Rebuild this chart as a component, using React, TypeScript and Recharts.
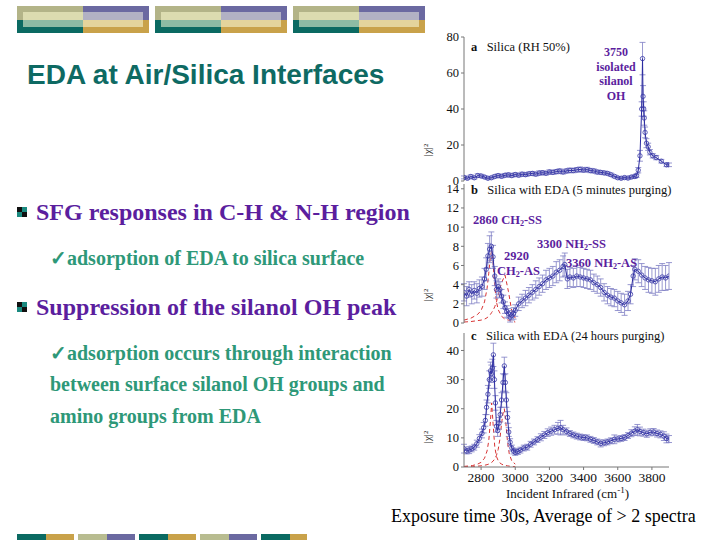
import { ComposedChart, Line, XAxis, YAxis, ErrorBar } from 'recharts'

// panel a: bare silica, RH 50%
const silicaX = [2700, 2720, 2740, 2760, 2780, 2800, 2820, 2840, 2860, 2880, 2900, 2920, 2940, 2960, 2980, 3000, 3020, 3040, 3060, 3080, 3100, 3120, 3140, 3160, 3180, 3200, 3220, 3240, 3260, 3280, 3300, 3320, 3340, 3360, 3380, 3400, 3420, 3440, 3460, 3480, 3500, 3520, 3540, 3560, 3580, 3600, 3620, 3640, 3660, 3680, 3700, 3710, 3720, 3730, 3740, 3745, 3748, 3752, 3755, 3760, 3768, 3778, 3788, 3805, 3825, 3855, 3885, 3900]
const silicaY = [2, 1.5, 2.5, 1.8, 3, 2.8, 2.2, 1.5, 1.8, 2.5, 3, 2.6, 3.2, 3.4, 3, 3.6, 3.2, 3.8, 3.5, 4, 4.2, 3.8, 4.4, 4.6, 4.3, 5, 4.8, 5.2, 5.5, 5, 5.6, 5.9, 5.8, 6.2, 6.4, 6.1, 6.3, 5.8, 5.6, 5, 4.8, 4.5, 4.2, 3.5, 2.6, 1.8, 1.5, 1.9, 1.6, 2.2, 2.5, 3, 6, 14, 40, 68, 47, 40, 35, 27, 21, 19, 16, 14, 13, 11, 9, 9]
const silicaErr = [0.8, 0.7, 0.9, 0.8, 1, 0.9, 0.8, 0.7, 0.8, 0.9, 1, 0.9, 1, 1.1, 0.9, 1, 0.9, 1.1, 1, 1, 1.1, 1, 1.2, 1.1, 1, 1.2, 1.1, 1.2, 1.3, 1.1, 1.2, 1.3, 1.2, 1.3, 1.4, 1.2, 1.3, 1.2, 1.1, 1.1, 1, 1, 0.9, 0.9, 0.8, 0.7, 0.7, 0.8, 0.7, 0.8, 0.9, 1, 1.5, 3, 4, 9, 6, 4, 4, 3, 2.5, 2, 1.5, 1.2, 1.2, 1, 1, 1]

// panel b: EDA, 5 minutes purging
const shortX = [2700, 2715, 2730, 2745, 2760, 2775, 2790, 2805, 2820, 2830, 2840, 2850, 2860, 2870, 2880, 2890, 2900, 2910, 2920, 2930, 2940, 2950, 2960, 2970, 2980, 2990, 3000, 3020, 3040, 3060, 3080, 3100, 3120, 3140, 3160, 3180, 3200, 3220, 3240, 3260, 3280, 3290, 3305, 3320, 3340, 3360, 3380, 3400, 3420, 3440, 3460, 3480, 3500, 3520, 3540, 3560, 3580, 3600, 3620, 3640, 3660, 3675, 3690, 3700, 3720, 3740, 3760, 3780, 3800, 3820, 3840, 3860, 3880, 3900]
const shortY = [3.2, 2.8, 3.5, 3.0, 3.4, 3.1, 3.6, 3.8, 4.6, 5.6, 7, 7.7, 8, 6.9, 4.9, 3.5, 3.8, 3.5, 2.8, 2.2, 1.6, 1.2, 1.0, 0.6, 0.8, 1.0, 1.3, 2.0, 2.3, 2.6, 2.9, 3.2, 3.5, 3.8, 4.1, 4.5, 4.7, 4.9, 5.3, 5.5, 5.9, 6.1, 4.6, 4.8, 4.7, 4.9, 4.8, 4.7, 4.6, 4.5, 4.2, 4.0, 3.7, 3.2, 2.9, 2.7, 2.6, 2.3, 2.1, 1.9, 2.3, 3.0, 4.9, 5.6, 5.4, 5.0, 4.7, 4.5, 4.4, 4.3, 4.6, 4.8, 4.7, 4.9]
const shortErr = [0.9, 1, 0.8, 1, 0.9, 1, 0.9, 1, 1.1, 1.2, 1.3, 1.4, 1.5, 1.2, 1, 0.9, 0.8, 0.8, 0.7, 0.7, 0.6, 0.6, 0.5, 0.5, 0.5, 0.6, 0.6, 0.7, 0.7, 0.8, 0.8, 0.8, 0.9, 0.9, 0.9, 1, 1, 1, 1.1, 1.1, 1.1, 1.2, 1, 1, 1, 1.1, 1, 1, 1, 1, 0.9, 0.9, 0.9, 0.9, 0.9, 0.9, 0.9, 1, 1, 1.1, 1, 1, 1.1, 1.1, 1.2, 1.2, 1.2, 1.3, 1.3, 1.4, 1.4, 1.4, 1.3, 1.4]
const shortFitX = [2700, 2740, 2780, 2800, 2820, 2835, 2845, 2855, 2862, 2870, 2880, 2890, 2900, 2920, 2940, 2960, 2980, 3000]
const shortFitSS = [0.3, 0.5, 0.9, 1.3, 2.2, 3.6, 5.2, 7, 7.5, 6.3, 3.8, 2.2, 1.4, 0.7, 0.4, 0.3, 0.2, 0.1]
const shortFitAS = [0.1, 0.15, 0.25, 0.3, 0.4, 0.55, 0.7, 0.9, 1.1, 1.3, 1.7, 2.2, 2.9, 4.2, 5, 3.3, 1.2, 0.5]

// panel c: EDA, 24 hours purging
const longX = [2700, 2715, 2730, 2745, 2760, 2775, 2790, 2805, 2815, 2825, 2832, 2840, 2848, 2855, 2860, 2866, 2872, 2878, 2884, 2890, 2897, 2905, 2912, 2920, 2928, 2936, 2942, 2948, 2955, 2962, 2970, 2980, 2990, 3000, 3015, 3030, 3050, 3070, 3090, 3110, 3130, 3150, 3170, 3190, 3210, 3230, 3250, 3265, 3280, 3300, 3320, 3340, 3360, 3380, 3400, 3420, 3440, 3460, 3480, 3500, 3520, 3540, 3560, 3580, 3600, 3620, 3640, 3660, 3680, 3700, 3715, 3730, 3750, 3770, 3790, 3810, 3830, 3850, 3870, 3885, 3900]
const longY = [6.3, 5.5, 5.8, 6.2, 6.8, 8, 9.8, 11.5, 13.5, 16, 20.5, 25, 30, 33, 32, 34, 38.5, 30, 22, 14, 12.5, 15, 18, 23, 29, 34.7, 29, 23, 17, 12, 8.5, 6.5, 5.5, 5, 5.3, 5.8, 6.5, 6.8, 7.8, 8.6, 9.4, 10.2, 11, 11.8, 12.3, 12.8, 13.3, 13.5, 12.8, 12.2, 11.5, 11, 10.6, 10.3, 10.1, 10, 9.5, 9.1, 8.6, 8.1, 8.3, 8.6, 9, 9.5, 9.6, 9.8, 10.1, 10.8, 11.6, 12.3, 12.8, 12.2, 11.8, 11.4, 11.9, 12, 11.5, 11.2, 10.6, 9.8, 9.6]
const longErr = [1.5, 1, 1.2, 1, 1, 1.2, 1.3, 1.5, 1.8, 2, 2.5, 3, 3, 3, 3, 3, 4, 3, 2.5, 2, 2, 2, 2.5, 2.5, 3, 3, 3, 2.5, 2, 1.5, 1.2, 1, 1, 1, 1, 1, 1, 1, 1, 1, 1, 1.2, 1.2, 1.3, 1.4, 1.5, 2, 2.5, 1.5, 1.2, 1, 1, 1, 1, 1, 1, 1, 1, 1, 1.2, 1, 1, 1, 1.5, 1, 1, 1, 1, 1.2, 1.5, 1.8, 1.5, 1.2, 1.2, 1.2, 1.2, 1.2, 1.2, 1.5, 1.5, 1.2]
const longFitX = [2700, 2750, 2780, 2800, 2820, 2835, 2845, 2855, 2862, 2870, 2880, 2890, 2900, 2910, 2920, 2930, 2936, 2945, 2955, 2965, 2980, 3000]
const longFitSS = [0.2, 0.5, 1, 1.6, 3, 5.5, 9, 16, 22, 15, 7, 3.6, 2.2, 1.4, 1, 0.7, 0.6, 0.5, 0.4, 0.3, 0.2, 0.1]
const longFitAS = [0.1, 0.2, 0.3, 0.4, 0.6, 0.8, 1, 1.3, 1.6, 2, 2.8, 4, 6, 9.5, 15, 19, 20, 15, 8.5, 4.5, 2, 1]

const xTicks = [2800, 3000, 3200, 3400, 3600, 3800]

const BLUE = '#2c2ca0'
const RED = '#d83434'
const PURPLE = '#5b1e9e'
const TEAL = '#0e6a63'
const GREEN = '#2e9878'
const SERIF = '"Liberation Serif", "Times New Roman", serif'

const toPoints = (xs: number[], ys: number[], errs: number[]) =>
  xs.map((x, i) => ({ x, y: ys[i], err: errs[i] }))
const toFit = (xs: number[], ss: number[], as: number[]) =>
  xs.map((x, i) => ({ x, ss: ss[i], as: as[i] }))

interface PanelProps {
  data: { x: number; y: number; err: number }[]
  fit?: { x: number; ss: number; as: number }[]
  yMax: number
  yTicks: number[]
  width: number
  height: number
  top: number
  bottom: number
  showX?: boolean
}

function Panel({ data, fit, yMax, yTicks, width, height, top, bottom, showX }: PanelProps) {
  const axisStroke = '#777'
  const tickStyle = { fontSize: 12.5, fontFamily: SERIF, fill: '#111' }
  return (
    <ComposedChart width={width} height={height} data={data} margin={{ top, right: 41, bottom, left: 14 }}>
      <XAxis
        dataKey="x"
        type="number"
        domain={[2700, 3900]}
        ticks={showX ? xTicks : []}
        tick={showX ? { ...tickStyle, fontSize: 13.5 } : false}
        tickSize={3}
        interval={0}
        height={showX ? 20 : 0}
        stroke={axisStroke}
        allowDataOverflow
      />
      <XAxis xAxisId="top" orientation="top" type="number" domain={[2700, 3900]} tick={false} height={0} stroke={axisStroke} />
      <YAxis
        type="number"
        domain={[0, yMax]}
        ticks={yTicks}
        tick={tickStyle}
        tickSize={3}
        interval={0}
        width={30}
        stroke={axisStroke}
        allowDataOverflow
      />
      <YAxis yAxisId="right" orientation="right" domain={[0, yMax]} tick={false} width={0} stroke={axisStroke} />
      {fit && (
        <Line data={fit} dataKey="ss" stroke={RED} strokeWidth={1} strokeDasharray="4 3" dot={false} isAnimationActive={false} />
      )}
      {fit && (
        <Line data={fit} dataKey="as" stroke={RED} strokeWidth={1} strokeDasharray="4 3" dot={false} isAnimationActive={false} />
      )}
      <Line
        dataKey="y"
        stroke={BLUE}
        strokeWidth={1}
        dot={{ r: 2.2, stroke: '#3a3aa8', strokeWidth: 0.8, fill: 'none' }}
        isAnimationActive={false}
      >
        <ErrorBar dataKey="err" width={3} stroke="#7e7ec4" strokeWidth={0.8} direction="y" />
      </Line>
    </ComposedChart>
  )
}

function DecoBlock({ left }: { left: number }) {
  const r = (x: number, y: number, w: number, h: number, c: string) => (
    <div style={{ position: 'absolute', left: x, top: y, width: w, height: h, background: c }} />
  )
  return (
    <div style={{ position: 'absolute', left, top: 6, width: 132, height: 27 }}>
      {r(0, 0, 66, 14, '#b3b488')}
      {r(0, 14, 66, 13, '#0b6a62')}
      {r(66, 0, 66, 14, '#6b69a1')}
      {r(66, 14, 66, 13, '#c9a24a')}
      {r(6, 6, 60, 8, '#dcdcb0')}
      {r(6, 14, 60, 7, '#8dbba4')}
      {r(66, 6, 60, 8, '#b2b1c4')}
      {r(66, 14, 60, 7, '#e4d49c')}
    </div>
  )
}

const bottomStrip: [number, number, string][] = [
  [17, 46, '#0b6a62'], [46, 74, '#c9a24a'], [78, 107, '#b8bc90'], [107, 135, '#6b69a1'],
  [139, 168, '#0b6a62'], [168, 196, '#c9a24a'], [200, 229, '#b8bc90'], [229, 257, '#6b69a1'],
  [261, 290, '#0b6a62'], [290, 307, '#c9a24a'],
]

function BulletIcon({ top }: { top: number }) {
  const s = 5
  return (
    <div style={{ position: 'absolute', left: 17, top, width: 10, height: 10 }}>
      <div style={{ position: 'absolute', left: 0, top: 0, width: s, height: s, background: '#111' }} />
      <div style={{ position: 'absolute', left: s, top: 0, width: s, height: s, background: '#1a8a80' }} />
      <div style={{ position: 'absolute', left: 0, top: s, width: s, height: s, background: '#1a8a80' }} />
      <div style={{ position: 'absolute', left: s, top: s, width: s, height: s, background: '#111' }} />
    </div>
  )
}

function Txt({ left, y, size, color, bold, children, lh = 1.2, style }: any) {
  const h = size * lh
  return (
    <div
      style={{
        position: 'absolute', left, top: y - h / 2, lineHeight: `${h}px`, fontSize: size,
        color, fontWeight: bold ? 'bold' : 'normal', fontFamily: SERIF, whiteSpace: 'nowrap', ...style,
      }}
    >
      {children}
    </div>
  )
}

function YLabel({ y }: { y: number }) {
  return (
    <div style={{ position: 'absolute', left: 421, top: y - 7, fontSize: 11, fontFamily: SERIF, color: '#333', transform: 'rotate(-90deg)', lineHeight: '14px' }}>
      |χ|²
    </div>
  )
}

const sub = (t: string) => <sub style={{ fontSize: '0.65em', verticalAlign: '-0.25em' }}>{t}</sub>

export default function App() {
  const silica = toPoints(silicaX, silicaY, silicaErr)
  const short = toPoints(shortX, shortY, shortErr)
  const long = toPoints(longX, longY, longErr)
  const shortFit = toFit(shortFitX, shortFitSS, shortFitAS)
  const longFit = toFit(longFitX, longFitSS, longFitAS)

  return (
    <div style={{ position: 'absolute', left: 0, top: 0, width: 720, height: 540, background: '#fff', overflow: 'hidden' }}>
      <DecoBlock left={17} />
      <DecoBlock left={155} />
      <DecoBlock left={293} />
      {bottomStrip.map(([a, b, c], i) => (
        <div key={i} style={{ position: 'absolute', left: a, top: 534, width: b - a, height: 6, background: c }} />
      ))}

      <div style={{ position: 'absolute', left: 27, top: 59, lineHeight: '32px', fontSize: 28, fontWeight: 'bold', color: TEAL, fontFamily: '"Liberation Sans", Arial, sans-serif', whiteSpace: 'nowrap' }}>
        EDA at Air/Silica Interfaces
      </div>

      <BulletIcon top={207} />
      <Txt left={36} y={212} size={24} color={PURPLE} bold>SFG responses in C-H &amp; N-H region</Txt>
      <Txt left={50} y={258} size={20} color={GREEN} bold>✓adsorption of EDA to silica surface</Txt>
      <BulletIcon top={302} />
      <Txt left={36} y={307} size={24} color={PURPLE} bold>Suppression of the silanol OH peak</Txt>
      <Txt left={50} y={353} size={20} color={GREEN} bold>✓adsorption occurs through interaction</Txt>
      <Txt left={50} y={384} size={20} color={GREEN} bold>between surface silanol OH groups and</Txt>
      <Txt left={50} y={416} size={20} color={GREEN} bold>amino groups from EDA</Txt>

      <div style={{ position: 'absolute', left: 420, top: 30 }}>
        <Panel data={silica} yMax={80} yTicks={[0, 20, 40, 60, 80]} width={290} height={160} top={7} bottom={9} />
      </div>
      <div style={{ position: 'absolute', left: 420, top: 181 }}>
        <Panel data={short} fit={shortFit} yMax={14.5} yTicks={[0, 2, 4, 6, 8, 10, 12, 14]} width={290} height={150} top={3} bottom={8} />
      </div>
      <div style={{ position: 'absolute', left: 420, top: 325 }}>
        <Panel data={long} fit={longFit} yMax={46} yTicks={[0, 10, 20, 30, 40]} width={290} height={175} top={8} bottom={13} showX />
      </div>

      <YLabel y={150} />
      <YLabel y={295} />
      <YLabel y={437} />

      <Txt left={471} y={47} size={12.5} color="#111"><b>a</b>&nbsp;&nbsp;&nbsp;Silica (RH 50%)</Txt>
      <Txt left={471} y={190} size={12.5} color="#111"><b>b</b>&nbsp;&nbsp;&nbsp;Silica with EDA (5 minutes purging)</Txt>
      <Txt left={471} y={336} size={12.5} color="#111"><b>c</b>&nbsp;&nbsp;&nbsp;Silica with EDA (24 hours purging)</Txt>

      <div style={{ position: 'absolute', left: 586, top: 45, width: 60, textAlign: 'center', fontSize: 12, lineHeight: '14.7px', fontWeight: 'bold', color: PURPLE, fontFamily: SERIF }}>
        3750<br />isolated<br />silanol<br />OH
      </div>
      <Txt left={473} y={220} size={12.5} color={PURPLE} bold>2860 CH{sub('2')}-SS</Txt>
      <Txt left={537} y={244} size={12.5} color={PURPLE} bold>3300 NH{sub('2')}-SS</Txt>
      <Txt left={504} y={256} size={12.5} color={PURPLE} bold>2920</Txt>
      <Txt left={497} y={271} size={12.5} color={PURPLE} bold>CH{sub('2')}-AS</Txt>
      <Txt left={566} y={263} size={12.5} color={PURPLE} bold>3360 NH{sub('2')}-AS</Txt>

      <div style={{ position: 'absolute', left: 466, top: 486, width: 203, textAlign: 'center', fontSize: 13, lineHeight: '15px', fontFamily: SERIF, color: '#111' }}>
        Incident Infrared (cm<sup style={{ fontSize: '0.7em', lineHeight: 0 }}>-1</sup>)
      </div>
      <Txt left={391} y={516} size={18} lh={1.05} color="#000">Exposure time 30s, Average of &gt; 2 spectra</Txt>
    </div>
  )
}
